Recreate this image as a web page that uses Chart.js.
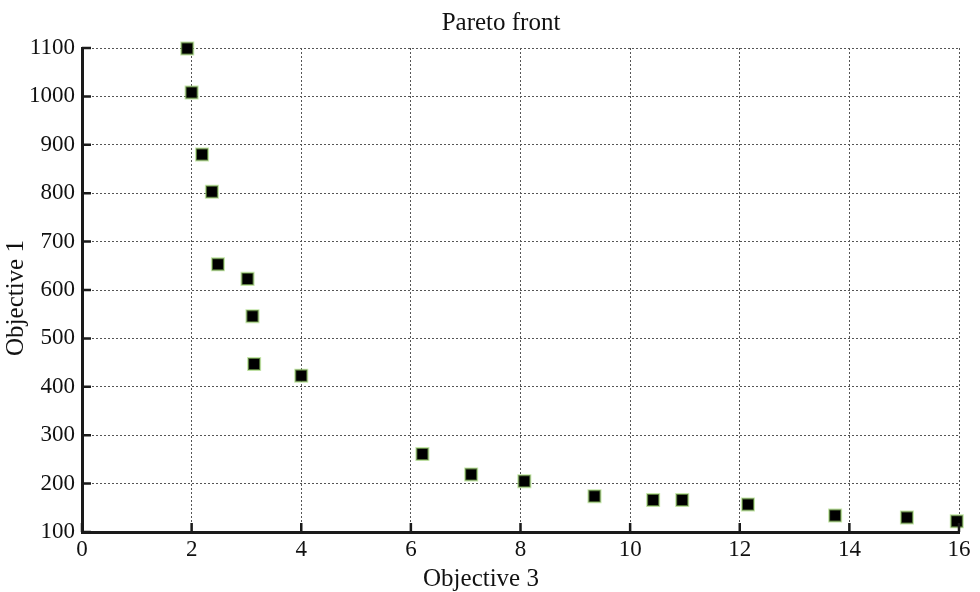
<!DOCTYPE html>
<html>
<head>
<meta charset="utf-8">
<script src="https://cdn.jsdelivr.net/npm/chart.js@4/dist/chart.umd.min.js"></script>
<style>
    html, body { margin: 0; padding: 0; background: #fff; }
    #wrap { width: 980px; height: 592px; }
</style>
</head>
<body>
<div id="wrap"><canvas id="chart"></canvas></div>
<script>
// Objective 3 (x) and Objective 1 (y) of each pareto point
const objective3 = [1.92, 2.0, 2.19, 2.37, 2.48, 3.02, 3.11, 3.14, 4.0, 6.21, 7.1, 8.07, 9.35, 10.42, 10.95, 12.15, 13.74, 15.05, 15.96];
const objective1 = [1099, 1008, 880, 803, 653, 623, 546, 447, 423, 261, 219, 205, 174, 166, 166, 157, 134, 130, 122];

const xTicks = [0, 2, 4, 6, 8, 10, 12, 14, 16];
const yTicks = [100, 200, 300, 400, 500, 600, 700, 800, 900, 1000, 1100];

const chartTitle = 'Pareto front';
const xTitle = 'Objective 3';
const yTitle = 'Objective 1';

const points = objective3.map((x, i) => ({ x: x, y: objective1[i] }));
const serif = '"Liberation Serif", "Times New Roman", serif';

// inward tick marks + titles (the original ones are not centred on the plot)
const decorations = {
    id: 'decorations',
    afterDatasetsDraw(chart) {
        const ctx = chart.ctx;
        const xs = chart.scales.x, ys = chart.scales.y;
        ctx.save();
        ctx.strokeStyle = '#1a1a1a';
        ctx.lineWidth = 2.5;
        ctx.beginPath();
        xTicks.forEach(v => {
            const px = xs.getPixelForValue(v);
            ctx.moveTo(px, ys.bottom);
            ctx.lineTo(px, ys.bottom - 9);
        });
        yTicks.forEach(v => {
            const py = ys.getPixelForValue(v);
            ctx.moveTo(xs.left, py);
            ctx.lineTo(xs.left + 9, py);
        });
        ctx.stroke();

        ctx.fillStyle = '#111';
        ctx.font = '25px ' + serif;
        ctx.textAlign = 'center';
        ctx.textBaseline = 'middle';
        ctx.fillText(chartTitle, 501, 23);
        ctx.fillText(xTitle, 481, 579);
        ctx.translate(16, 298);
        ctx.rotate(-Math.PI / 2);
        ctx.fillText(yTitle, 0, 0);
        ctx.restore();
    }
};

new Chart(document.getElementById('chart'), {
    type: 'scatter',
    data: {
        datasets: [{
            data: points,
            clip: false,
            pointStyle: 'rect',
            pointRadius: 8.5,
            pointHoverRadius: 8.5,
            backgroundColor: '#000',
            borderColor: 'rgba(150,210,100,0.55)',
            borderWidth: 2
        }]
    },
    options: {
        responsive: true,
        maintainAspectRatio: false,
        animation: false,
        layout: { padding: { left: 0, right: 21, top: 48, bottom: 0 } },
        plugins: {
            legend: { display: false },
            tooltip: { enabled: false },
            title: { display: false }
        },
        scales: {
            x: {
                type: 'linear',
                min: 0,
                max: 16,
                afterBuildTicks: s => { s.ticks = xTicks.map(v => ({ value: v })); },
                afterFit: s => { s.height = 60; },
                grid: { color: '#555', lineWidth: 1, tickLength: 0, drawTicks: false },
                border: { display: true, color: '#1a1a1a', width: 3, dash: [2, 2] },
                ticks: {
                    color: '#111',
                    padding: 4,
                    maxRotation: 0,
                    font: { family: serif, size: 23 },
                    callback: v => String(v)
                }
            },
            y: {
                type: 'linear',
                min: 100,
                max: 1100,
                afterBuildTicks: s => { s.ticks = yTicks.map(v => ({ value: v })); },
                afterFit: s => { s.width = 82; },
                grid: { color: '#555', lineWidth: 1, tickLength: 0, drawTicks: false },
                border: { display: true, color: '#1a1a1a', width: 3, dash: [2, 2] },
                ticks: {
                    color: '#111',
                    padding: 7,
                    font: { family: serif, size: 23 },
                    callback: v => String(v)
                }
            }
        }
    },
    plugins: [decorations]
});
</script>
</body>
</html>
